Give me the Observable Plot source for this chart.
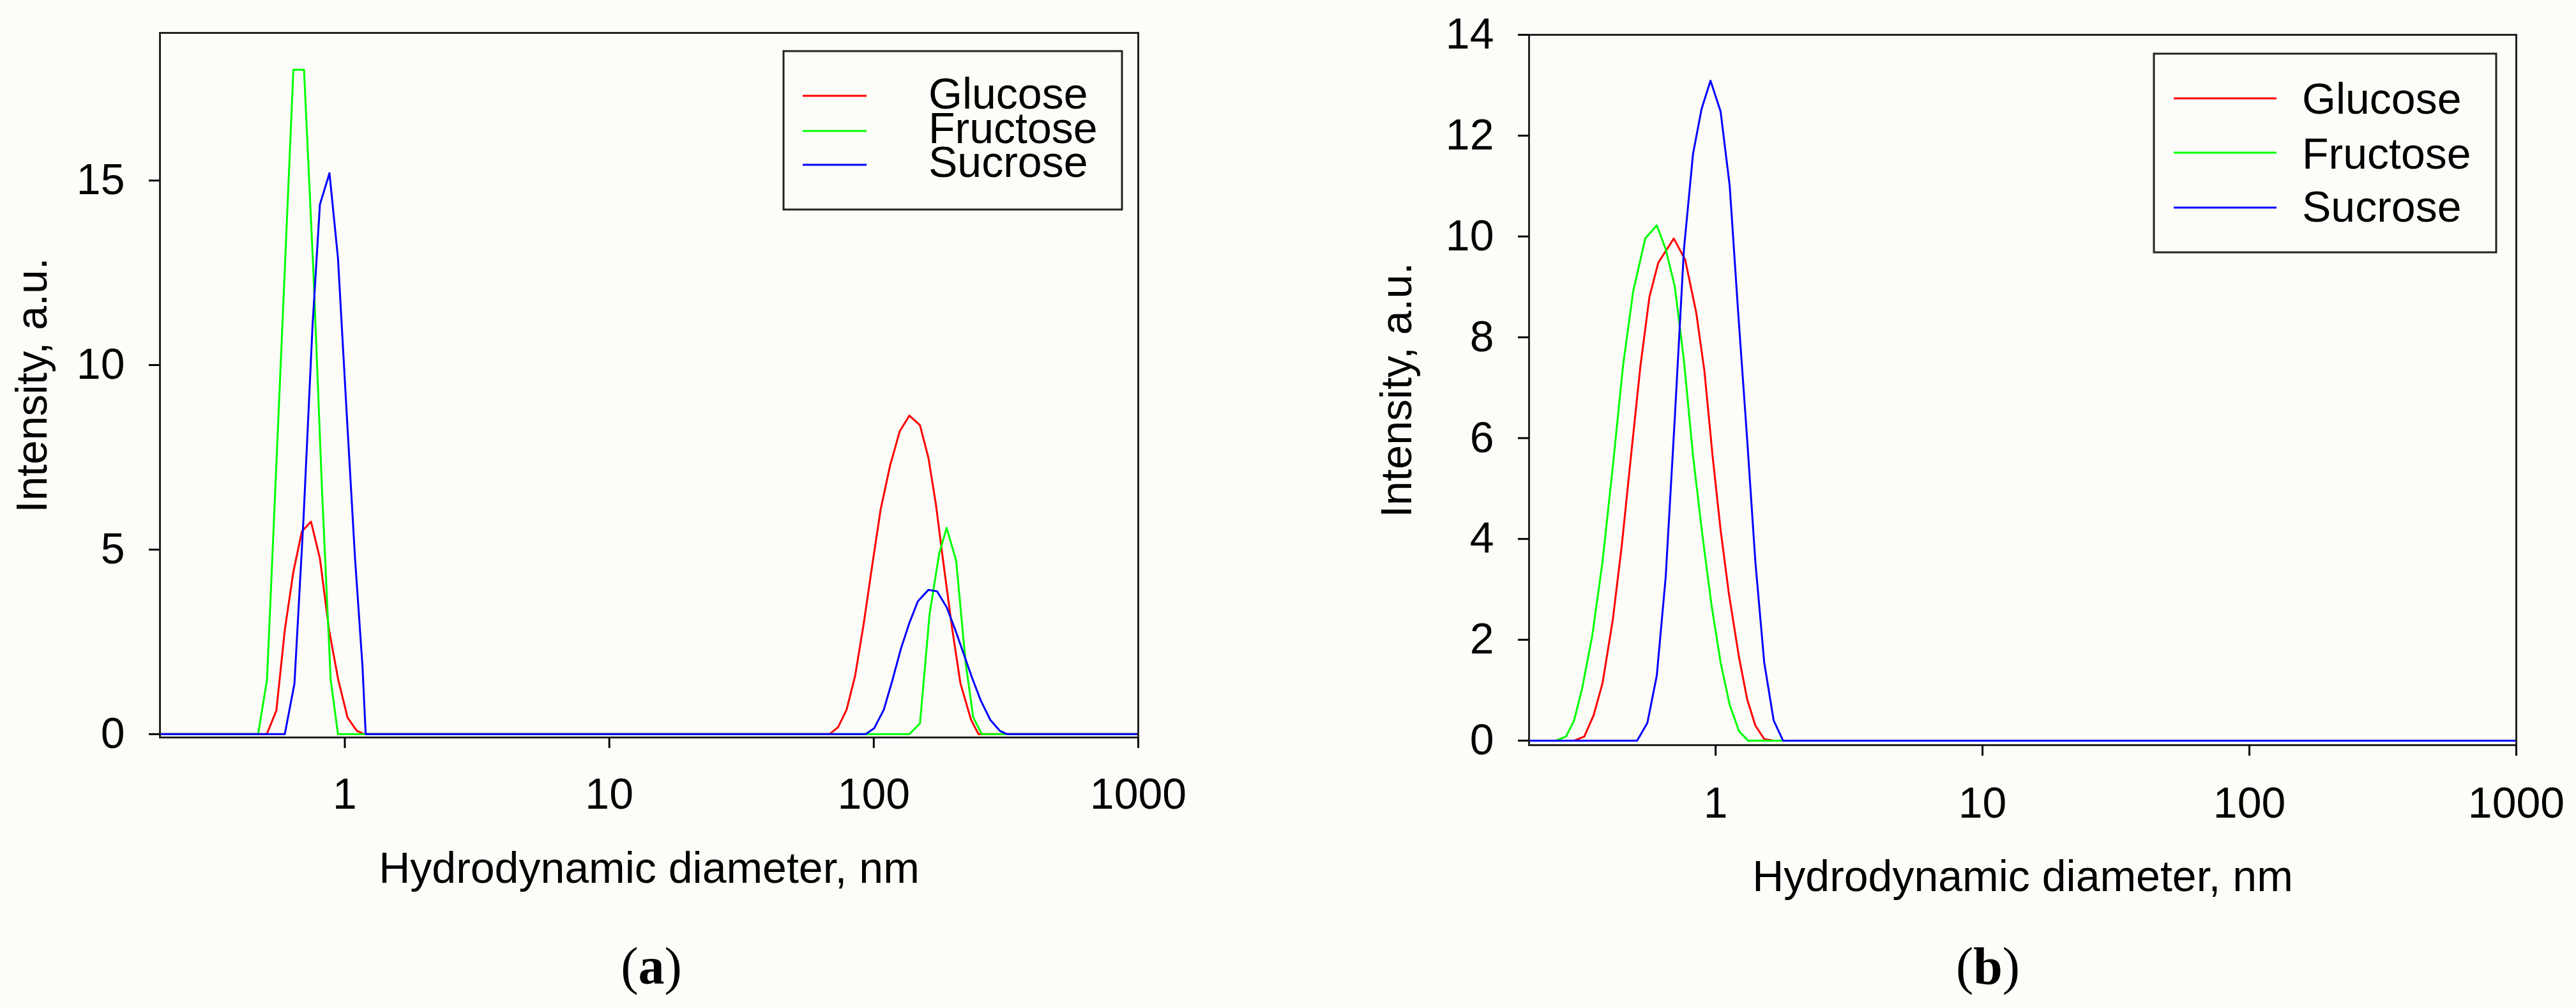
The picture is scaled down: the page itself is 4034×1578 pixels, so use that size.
<!DOCTYPE html>
<html>
<head>
<meta charset="utf-8">
<script src="https://cdn.jsdelivr.net/npm/d3@7"></script>
<script src="https://cdn.jsdelivr.net/npm/@observablehq/plot@0.6"></script>
<style>
html, body { margin: 0; padding: 0; background: #fcfcf8; }
#root { position: relative; width: 4034px; height: 1578px; overflow: hidden; background: #fcfcf8; }
.panel { position: absolute; top: 0; }
.cap { position: absolute; top: 1472px; font-family: "Liberation Serif", "Times New Roman", serif; font-size: 82px; line-height: 82px; color: #000; transform: translateX(-50%); white-space: nowrap; }
#legend { position: absolute; left: 0; top: 0; pointer-events: none; }
</style>
</head>
<body>
<div id="root"></div>
<script>
// ---- data ----
const seriesNames = ["Glucose", "Fructose", "Sucrose"];
const seriesColors = ["#ff0000", "#00ff00", "#0000ff"];
const xTicks = [1, 10, 100, 1000];
const yTicksA = [0, 5, 10, 15];
const yTicksB = [0, 2, 4, 6, 8, 10, 12, 14];
const xTitle = "Hydrodynamic diameter, nm";
const yTitle = "Intensity, a.u.";

// panel (a): [diameter nm, intensity]
const glucoseA = [[0.2,0],[0.507,0],[0.551,0.64],[0.593,2.82],[0.639,4.4],[0.688,5.49],[0.745,5.76],[0.805,4.76],[0.872,2.82],[0.944,1.48],[1.024,0.45],[1.11,0.09],[1.19,0],
  [68.0,0],[73.3,0.19],[78.9,0.66],[85.0,1.58],[91.5,2.97],[98.6,4.56],[106.1,6.08],[115.3,7.28],[125.4,8.21],[136.3,8.63],[149.5,8.37],[161.0,7.48],[171.8,6.22],[183.4,4.63],[197.4,2.91],[212.6,1.38],[233.2,0.39],[248.9,0],[1000,0]];
const fructoseA = [[0.2,0],[0.470,0],[0.508,1.48],[0.551,7.3],[0.593,12.6],[0.639,18.0],[0.701,18.0],[0.761,12.5],[0.820,6.6],[0.884,1.48],[0.942,0],
  [136.3,0],[149.5,0.29],[162.5,3.24],[176.7,4.89],[188.6,5.59],[204.9,4.70],[222.7,1.91],[237.6,0.46],[256,0],[1000,0]];
const sucroseA = [[0.2,0],[0.593,0],[0.645,1.37],[0.698,5.85],[0.755,11.07],[0.805,14.35],[0.875,15.2],[0.942,12.9],[1.015,8.77],[1.093,4.76],[1.166,1.85],[1.199,0],
  [93.2,0],[100.4,0.16],[109.1,0.66],[117.5,1.45],[126.6,2.31],[136.3,3.01],[146.8,3.60],[161.0,3.91],[173.5,3.87],[188.6,3.44],[203,2.84],[218.6,2.18],[235.5,1.52],[253.5,0.92],[275.6,0.39],[299.6,0.09],[319.7,0],[1000,0]];

// panel (b)
const glucoseB = [[0.2,0],[0.295,0],[0.322,0.08],[0.349,0.50],[0.377,1.14],[0.412,2.40],[0.445,3.87],[0.482,5.65],[0.523,7.44],[0.565,8.80],[0.610,9.48],[0.697,9.96],[0.769,9.54],[0.846,8.49],[0.908,7.33],[0.974,5.65],[1.044,4.18],[1.121,2.92],[1.223,1.66],[1.313,0.82],[1.409,0.30],[1.521,0.03],[1.650,0],[1000,0]];
const fructoseB = [[0.2,0],[0.252,0],[0.275,0.08],[0.295,0.40],[0.316,1.03],[0.345,2.08],[0.377,3.55],[0.412,5.44],[0.450,7.44],[0.491,8.91],[0.545,9.96],[0.602,10.22],[0.650,9.75],[0.703,9.01],[0.761,7.54],[0.823,5.65],[0.892,4.08],[0.964,2.71],[1.044,1.55],[1.129,0.71],[1.223,0.19],[1.322,0],[1000,0]];
const sucroseB = [[0.2,0],[0.508,0],[0.555,0.35],[0.602,1.29],[0.650,3.24],[0.703,6.39],[0.761,9.75],[0.823,11.64],[0.886,12.53],[0.957,13.09],[1.044,12.48],[1.129,11.01],[1.215,8.49],[1.313,5.97],[1.409,3.55],[1.521,1.55],[1.650,0.40],[1.789,0],[1000,0]];

// ---- build ----
function table(arrs) {
  return arrs.flatMap((pts, i) => pts.map(([d, v]) => ({series: seriesNames[i], d, v})));
}

function panel(o) {
  return Plot.plot({
    width: o.width, height: o.height,
    marginLeft: o.ml, marginRight: o.mr, marginTop: o.mt, marginBottom: o.mb,
    style: {fontFamily: '"Liberation Sans", Arial, sans-serif', fontSize: "68px", background: "transparent", color: "#000", overflow: "visible"},
    x: {type: "log", domain: [0.2, 1000]},
    y: {domain: o.yDomain},
    color: {domain: seriesNames, range: seriesColors},
    marks: [
      Plot.line(o.data, {x: "d", y: "v", z: "series", stroke: "series", strokeWidth: 3}),
      Plot.frame({stroke: "#222", strokeWidth: 3}),
      Plot.axisX({ticks: xTicks, tickFormat: d => String(d), tickSize: 17, tickPadding: o.xTickPad, strokeWidth: 3, label: null}),
      Plot.axisY({ticks: o.yTicks, tickFormat: d => String(d), tickSize: 17, tickPadding: 38, strokeWidth: 3, label: null}),
      Plot.text([xTitle], {text: d => d, frameAnchor: "bottom", dy: o.xTitleDy, textAnchor: "middle", lineAnchor: "middle", fontSize: 68}),
      Plot.text([yTitle], {text: d => d, frameAnchor: "left", dx: o.yTitleDx, rotate: -90, textAnchor: "middle", lineAnchor: "middle", fontSize: 68})
    ]
  });
}

const root = document.getElementById("root");

const pa = panel({data: table([glucoseA, fructoseA, sucroseA]), yDomain: [-0.09, 19], yTicks: yTicksA,
  width: 2040, height: 1578, ml: 250, mr: 258, mt: 51, mb: 424, xTickPad: 46, xTitleDy: 206, yTitleDx: -199});
pa.classList.add("panel"); pa.style.left = "0px";
root.appendChild(pa);

const pb = panel({data: table([glucoseB, fructoseB, sucroseB]), yDomain: [-0.09, 14], yTicks: yTicksB,
  width: 1994, height: 1578, ml: 354, mr: 94, mt: 54, mb: 412, xTickPad: 48, xTitleDy: 207, yTitleDx: -206});
pb.classList.add("panel"); pb.style.left = "2040px";
root.appendChild(pb);

// legends
const svg = d3.select(root).append("svg").attr("id", "legend").attr("width", 4034).attr("height", 1578);
function legend(box, lineX, lineYs, textX, baselines) {
  const g = svg.append("g");
  g.append("rect").attr("x", box[0]).attr("y", box[1]).attr("width", box[2] - box[0]).attr("height", box[3] - box[1])
    .attr("fill", "none").attr("stroke", "#222").attr("stroke-width", 3);
  seriesNames.forEach((name, i) => {
    g.append("line").attr("x1", lineX[0]).attr("x2", lineX[1]).attr("y1", lineYs[i]).attr("y2", lineYs[i])
      .attr("stroke", seriesColors[i]).attr("stroke-width", 3);
    g.append("text").attr("x", textX).attr("y", baselines[i]).text(name)
      .attr("font-family", '"Liberation Sans", Arial, sans-serif').attr("font-size", 68).attr("fill", "#000");
  });
}
legend([1227, 80, 1757, 328], [1257, 1357], [150, 205, 258], 1454, [170, 224, 277]);
legend([3373, 84, 3909, 395], [3404, 3565], [154, 239, 325], 3605, [178, 264, 347]);

// captions
function caption(letter, cx) {
  const d = document.createElement("div");
  d.className = "cap";
  d.style.left = cx + "px";
  d.innerHTML = "(<b>" + letter + "</b>)";
  root.appendChild(d);
}
caption("a", 1020);
caption("b", 3113);
</script>
</body>
</html>
